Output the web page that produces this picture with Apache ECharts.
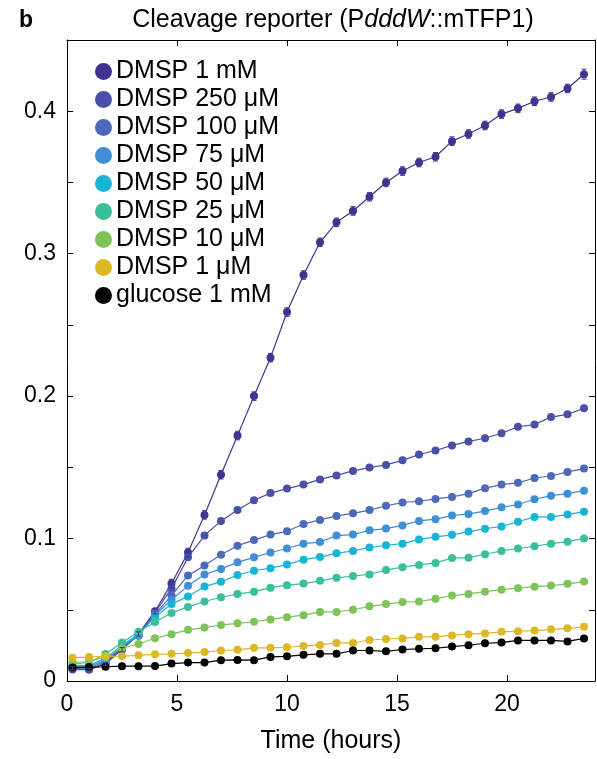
<!DOCTYPE html>
<html><head><meta charset="utf-8">
<script src="https://cdn.jsdelivr.net/npm/echarts@6/dist/echarts.min.js"></script>
<style>html,body{margin:0;padding:0;background:#fff}#c{width:597px;height:759px}</style>
</head><body><div id="c"></div>
<script>
const times = [0.25,1,1.75,2.5,3.25,4,4.75,5.5,6.25,7,7.75,8.5,9.25,10,10.75,11.5,12.25,13,13.75,14.5,15.25,16,16.75,17.5,18.25,19,19.75,20.5,21.25,22,22.75,23.5];
const seriesNames = ['DMSP 1 mM','DMSP 250 μM','DMSP 100 μM','DMSP 75 μM','DMSP 50 μM','DMSP 25 μM','DMSP 10 μM','DMSP 1 μM','glucose 1 mM'];
const d1m   = [0.009,0.008,0.012,0.022,0.033,0.049,0.0684,0.0902,0.1166,0.1448,0.1723,0.200,0.227,0.259,0.285,0.308,0.322,0.330,0.340,0.350,0.358,0.364,0.368,0.379,0.384,0.390,0.398,0.402,0.407,0.410,0.416,0.426];
const err1m = [0.001,0.001,0.001,0.0015,0.0015,0.002,0.003,0.003,0.003,0.003,0.003,0.003,0.003,0.003,0.003,0.003,0.003,0.003,0.003,0.003,0.003,0.003,0.003,0.003,0.003,0.003,0.003,0.003,0.003,0.003,0.003,0.0035];
const d250u = [0.008,0.008,0.013,0.023,0.032,0.048,0.065,0.0868,0.1021,0.1124,0.120,0.1269,0.1319,0.1351,0.1379,0.1415,0.1443,0.1475,0.1498,0.1517,0.1549,0.159,0.1618,0.1654,0.1682,0.1704,0.1739,0.1785,0.180,0.1853,0.1872,0.1915];
const d100u = [0.009,0.009,0.014,0.024,0.032,0.047,0.060,0.0741,0.081,0.0886,0.095,0.0989,0.1028,0.1051,0.1102,0.1131,0.1159,0.1177,0.120,0.123,0.1253,0.1262,0.1278,0.1292,0.1315,0.1354,0.1379,0.1391,0.1425,0.1439,0.1468,0.1491];
const d75u  = [0.010,0.010,0.015,0.024,0.032,0.046,0.057,0.0668,0.0748,0.0787,0.0833,0.0868,0.0902,0.093,0.0964,0.0975,0.1021,0.1028,0.1058,0.107,0.1092,0.1124,0.1136,0.1161,0.1173,0.1193,0.1219,0.1239,0.1276,0.1301,0.1315,0.1336];
const d50u  = [0.011,0.011,0.016,0.025,0.033,0.0448,0.054,0.0593,0.0664,0.0696,0.0744,0.0774,0.0792,0.0817,0.0852,0.087,0.0896,0.0913,0.0937,0.0953,0.0964,0.0994,0.1012,0.1026,0.1049,0.1069,0.1085,0.1118,0.1152,0.1152,0.1168,0.1189];
const d25u  = [0.012,0.013,0.019,0.027,0.0345,0.0414,0.0478,0.052,0.0558,0.0588,0.061,0.0627,0.0655,0.0673,0.0684,0.0703,0.0724,0.0737,0.0748,0.0779,0.0799,0.0815,0.0829,0.0863,0.0866,0.089,0.0913,0.093,0.0946,0.0964,0.0978,0.1001];
const d10u  = [0.013,0.0135,0.017,0.023,0.026,0.030,0.0329,0.0359,0.0375,0.0393,0.0405,0.0416,0.0432,0.0448,0.0462,0.0485,0.0485,0.050,0.0524,0.054,0.0554,0.0558,0.0577,0.060,0.0611,0.0627,0.0641,0.0652,0.0662,0.067,0.0682,0.0698];
const d1u   = [0.0164,0.0168,0.0173,0.0175,0.018,0.0187,0.0191,0.0196,0.0203,0.0214,0.0219,0.0233,0.0233,0.0237,0.0246,0.0253,0.0267,0.0267,0.0288,0.0295,0.0299,0.031,0.031,0.032,0.0329,0.0334,0.0345,0.035,0.0354,0.0363,0.037,0.038];
const glucose = [0.0095,0.0098,0.010,0.0104,0.0104,0.0105,0.0122,0.0129,0.0129,0.0146,0.0148,0.0146,0.0169,0.0173,0.0184,0.0191,0.0191,0.0214,0.0214,0.0208,0.0221,0.0226,0.023,0.0242,0.0251,0.0265,0.027,0.0285,0.0285,0.0285,0.0278,0.0299];
const allData = [d1m,d250u,d100u,d75u,d50u,d25u,d10u,d1u,glucose];
const colors = ['#3f3591','#4a4fa8','#4e69bb','#3f8fd5','#17b5d3','#3abf9c','#7dc35a','#dbb925','#000000'];
const xTicks = [0,5,10,15,20];
const yTickLabels = [0,0.1,0.2,0.3,0.4];

const FONT = 'Liberation Sans';
const chart = echarts.init(document.getElementById('c'), null, {renderer:'canvas'});

const series = allData.map((d,k)=>({
  name: seriesNames[k], type:'line', data: d.map((v,i)=>[times[i],v]),
  symbol:'circle', symbolSize:8, showSymbol:true,
  itemStyle:{color:colors[k]}, lineStyle:{color:colors[k], width:1.2},
  z: 2+k, animation:false, emphasis:{disabled:true}
}));
series.push({
  type:'custom', name:'err', data: d1m.map((v,i)=>[times[i], v-err1m[i], v+err1m[i]]),
  z: 20, animation:false, silent:true,
  renderItem:function(params, api){
    const lo = api.coord([api.value(0), api.value(1)]);
    const hi = api.coord([api.value(0), api.value(2)]);
    const w = 2.5;
    const st = {stroke: colors[0], lineWidth: 1};
    return {type:'group', children:[
      {type:'line', shape:{x1:lo[0],y1:lo[1],x2:hi[0],y2:hi[1]}, style:st},
      {type:'line', shape:{x1:lo[0]-w,y1:lo[1],x2:lo[0]+w,y2:lo[1]}, style:st},
      {type:'line', shape:{x1:hi[0]-w,y1:hi[1],x2:hi[0]+w,y2:hi[1]}, style:st}
    ]};
  }
});

const axisLine = {show:true, onZero:false, lineStyle:{color:'#000', width:1}};
const tick = {show:true, inside:true, length:6, lineStyle:{color:'#000', width:1}};
function yFmt(v){
  for (const t of yTickLabels) { if (Math.abs(v-t)<1e-9) return t===0?'0':t.toFixed(1); }
  return '';
}
chart.setOption({
  animation:false,
  backgroundColor:'#fff',
  title:[
    {text:'{n|Cleavage reporter (P}{i|dddW}{n|::mTFP1)}', left:328, top:3, textAlign:'center',
     textStyle:{fontWeight:'normal', rich:{n:{fontFamily:FONT,fontSize:25,fontWeight:'normal',color:'#000'}, i:{fontFamily:FONT,fontSize:25,fontStyle:'italic',fontWeight:'normal',color:'#000'}}}},
    {text:'b', left:14, top:4, textStyle:{fontFamily:FONT,fontSize:23,fontWeight:'bold',color:'#000'}}
  ],
  grid:{left:67, right:2, top:40, bottom:65, containLabel:false},
  legend:{
    data: seriesNames, orient:'vertical', left:90, top:54, icon:'circle',
    itemWidth:17, itemHeight:17, itemGap:3,
    textStyle:{fontFamily:FONT, fontSize:25, color:'#000', padding:[0,0,0,-1]},
    selectedMode:false
  },
  xAxis:[
    {type:'value', min:0, max:24, interval:5, position:'bottom',
     axisLine, axisTick:tick, splitLine:{show:false},
     axisLabel:{fontFamily:FONT, fontSize:23, color:'#000', margin:12, showMaxLabel:false},
     name:'Time (hours)', nameLocation:'middle', nameGap:48,
     nameTextStyle:{fontFamily:FONT, fontSize:25, color:'#000'}},
    {type:'value', min:0, max:24, interval:5, position:'top',
     axisLine, axisTick:tick, splitLine:{show:false}, axisLabel:{show:false}}
  ],
  yAxis:[
    {type:'value', min:0, max:0.45, interval:0.05, position:'left',
     axisLine, axisTick:tick, splitLine:{show:false},
     axisLabel:{fontFamily:FONT, fontSize:23, color:'#000', margin:11, formatter:yFmt, showMaxLabel:false}},
    {type:'value', min:0, max:0.45, interval:0.05, position:'right',
     axisLine, axisTick:tick, splitLine:{show:false}, axisLabel:{show:false}}
  ],
  series
});
</script></body></html>
